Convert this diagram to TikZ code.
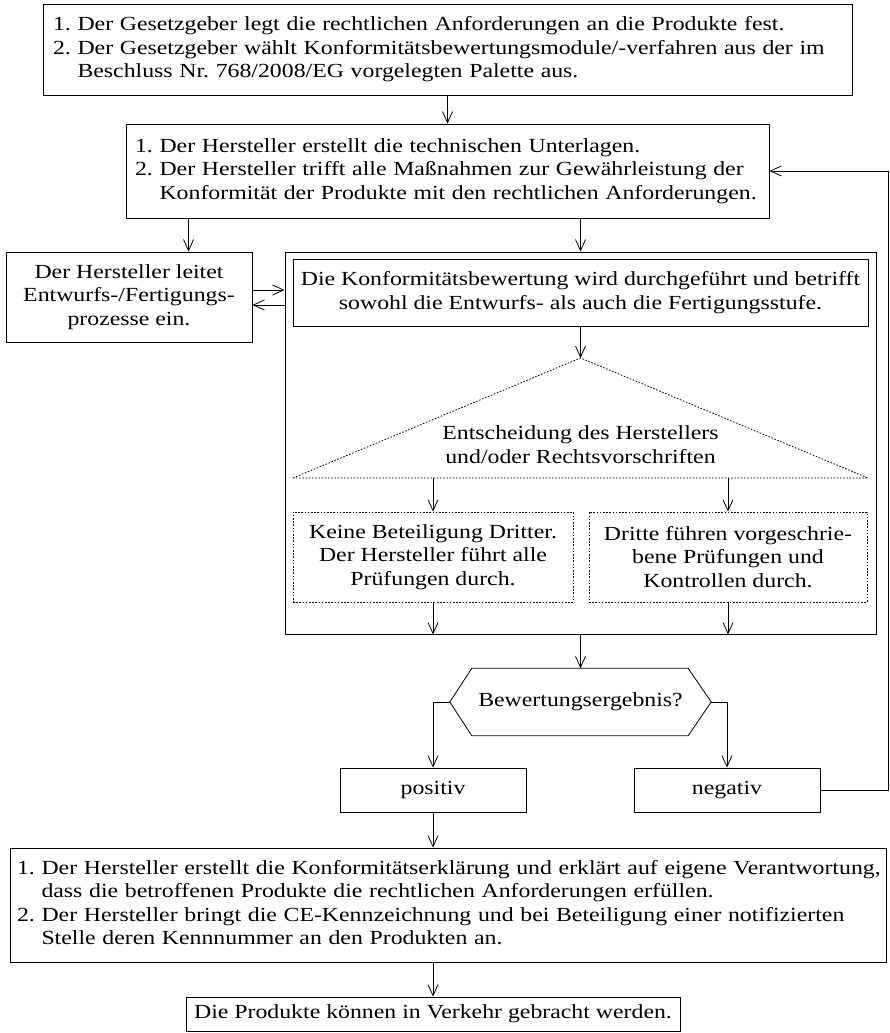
\documentclass[tikz,border=0pt]{standalone}
\usepackage{fontspec}
\setmainfont{Liberation Serif}[FakeStretch=1.19]
\usetikzlibrary{arrows.meta,calc}
\begin{document}
\begin{tikzpicture}[x=1pt,y=-1pt,
  every node/.style={font=\fontsize{20}{23.5}\selectfont},
  box/.style={draw, line width=0.9pt, inner sep=0pt, rectangle},
  dotbox/.style={draw, line width=0.8pt, dash pattern=on 1.6pt off 1.6pt, inner sep=0pt, rectangle},
  dotline/.style={line width=0.8pt, dash pattern=on 1.6pt off 1.6pt},
  arr/.style={line width=0.8pt, -{Straight Barb[length=11pt,width=10pt]}},
  ln/.style={line width=0.8pt}]
\useasboundingbox (0,0) rectangle (890,1033);

% top box
\node[box, minimum width=809pt, minimum height=91pt, text width=789pt, align=left] (top) at (447.5,49.5)
{\begin{tabular}{@{}l@{\ }l@{}}1. & Der Gesetzgeber legt die rechtlichen Anforderungen an die Produkte fest.\\
2. & Der Gesetzgeber wählt Konformitätsbewertungsmodule/-verfahren aus der im\\
 & Beschluss Nr.\ 768/2008/EG vorgelegten Palette aus.\end{tabular}};

% box 2
\node[box, minimum width=643pt, minimum height=94pt, text width=625pt, align=left] (box2) at (447.5,171)
{\begin{tabular}{@{}l@{\ }l@{}}1. & Der Hersteller erstellt die technischen Unterlagen.\\
2. & Der Hersteller trifft alle Maßnahmen zur Gewährleistung der\\
 & Konformität der Produkte mit den rechtlichen Anforderungen.\end{tabular}};

% Hersteller box
\node[box, minimum width=246pt, minimum height=90pt, align=center] (hers) at (129,297)
{Der Hersteller leitet\\Entwurfs-/Fertigungs-\\prozesse ein.};

% big box
\node[box, minimum width=591pt, minimum height=382pt] (big) at (580.5,443) {};

% inner box
\node[box, minimum width=575pt, minimum height=67pt, align=center] (inner) at (580.5,292.5)
{Die Konformitätsbewertung wird durchgeführt und betrifft\\sowohl die Entwurfs- als auch die Fertigungsstufe.};

% triangle
\coordinate (apex) at (580.5,358);
\coordinate (bl) at (293,478);
\coordinate (br) at (868,478);
\draw[dotline] (bl) -- (apex) -- (br) -- cycle;
\node[align=center, inner sep=0pt] (tri) at (580.5,444.5) {Entscheidung des Herstellers\\und/oder Rechtsvorschriften};

% dotted boxes
\node[dotbox, minimum width=280pt, minimum height=90pt, align=center] (dl) at (433,557)
{Keine Beteiligung Dritter.\\Der Hersteller führt alle\\Prüfungen durch.};
\node[dotbox, minimum width=278pt, minimum height=90pt, align=center] (dr) at (728,557)
{Dritte führen vorgeschrie-\\bene Prüfungen und\\Kontrollen durch.};

% hexagon
\node[minimum width=261pt, minimum height=67pt, inner sep=0pt] (hex) at (580.5,702) {Bewertungsergebnis?};
\draw[ln] (hex.west) -- ($(hex.north west)+(22,0)$) -- ($(hex.north east)+(-23,0)$) -- (hex.east)
  -- ($(hex.south east)+(-23,0)$) -- ($(hex.south west)+(22,0)$) -- cycle;

% results
\node[box, minimum width=186pt, minimum height=44pt] (pos) at (433,790) {positiv};
\node[box, minimum width=186pt, minimum height=44pt] (neg) at (727,790) {negativ};

% bottom box
\node[box, minimum width=876pt, minimum height=114pt, text width=862pt, align=left] (bot) at (448,905)
{\begin{tabular}{@{}l@{\ }l@{}}1. & Der Hersteller erstellt die Konformitätserklärung und erklärt auf eigene Verantwortung,\\
 & dass die betroffenen Produkte die rechtlichen Anforderungen erfüllen.\\
2. & Der Hersteller bringt die CE-Kennzeichnung und bei Beteiligung einer notifizierten\\
 & Stelle deren Kennnummer an den Produkten an.\end{tabular}};

% last box
\node[box, minimum width=494pt, minimum height=34pt] (last) at (433,1014) {Die Produkte können in Verkehr gebracht werden.};

% connectors
\draw[arr] (top.south) -- (box2.north);
\coordinate (a1) at ($(box2.south west)+(63,0)$);
\draw[arr] (a1) -- (a1 |- hers.north);
\coordinate (a2) at (box2.south -| big.north);
\draw[arr] (a2) -- (big.north);
\coordinate (d1) at (hers.east |- 0,290);
\draw[arr] (d1) -- (d1 -| big.west);
\coordinate (d2) at (big.west |- 0,305);
\draw[arr] (d2) -- (d2 -| hers.east);
\draw[arr] (inner.south) -- (apex);
\coordinate (t1) at (bl -| dl.north);
\coordinate (t2) at (bl -| dr.north);
\draw[arr] (t1) -- (dl.north);
\draw[arr] (t2) -- (dr.north);
\draw[arr] (dl.south) -- (dl.south |- big.south);
\draw[arr] (dr.south) -- (dr.south |- big.south);
\draw[arr] (big.south) -- (hex.north);
\draw[arr] (hex.west) -| (pos.north);
\draw[arr] (hex.east) -| (neg.north);
\draw[arr] (neg.east) -- ++(68,0) |- (box2.east);
\draw[arr] (pos.south) -- (pos.south |- bot.north);
\coordinate (b1) at (pos.south |- bot.south);
\draw[arr] (b1) -- (last.north);
\end{tikzpicture}
\end{document}
